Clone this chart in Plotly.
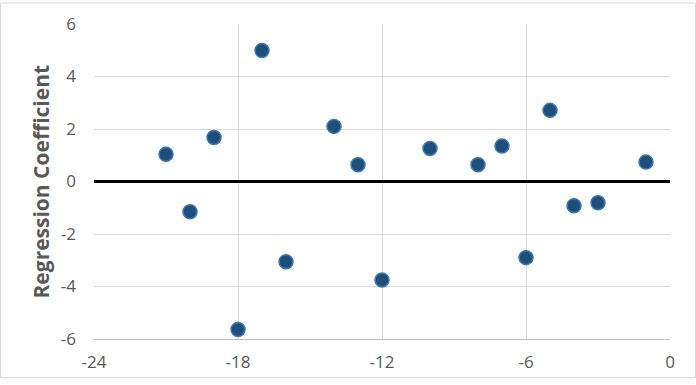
import plotly.graph_objects as go

x_vals = [-21, -20, -19, -18, -17, -16, -14, -13, -12, -10, -8, -7, -6, -5, -4, -3, -1]
y_vals = [1.04, -1.15, 1.68, -5.64, 4.99, -3.06, 2.10, 0.64, -3.75, 1.26, 0.64, 1.35, -2.90, 2.71, -0.92, -0.81, 0.74]
x_ticks = [-24, -18, -12, -6, 0]
y_ticks = [-6, -4, -2, 0, 2, 4, 6]

W, H = 696, 385
ml, mr, mt, mb = 94, 26, 22, 40

fig = go.Figure()
fig.add_trace(go.Scatter(
    x=x_vals, y=y_vals, mode="markers",
    marker=dict(size=14, color="#1f4e79", line=dict(color="#3a78b5", width=1.5)),
    showlegend=False, cliponaxis=False,
))

font_fam = "Open Sans, Liberation Sans, sans-serif"
fig.update_layout(
    width=W, height=H,
    margin=dict(l=ml, r=mr, t=mt, b=mb),
    paper_bgcolor="white", plot_bgcolor="white",
    font=dict(family=font_fam, color="#595959", size=17),
    xaxis=dict(
        range=[-24, 0], tickvals=x_ticks, ticktext=[str(v) for v in x_ticks],
        showgrid=True, gridcolor="#d9d9d9", gridwidth=1,
        zeroline=False, showline=True, linecolor="#bfbfbf", linewidth=1,
        ticks="", ticklabelstandoff=8, tickfont=dict(size=17, color="#595959"),
        fixedrange=True,
    ),
    yaxis=dict(
        range=[-6, 6], tickvals=y_ticks, ticktext=[str(v) for v in y_ticks],
        showgrid=True, gridcolor="#d9d9d9", gridwidth=1,
        zeroline=True, zerolinecolor="black", zerolinewidth=3,
        showline=False, ticks="", ticklabelstandoff=17,
        tickfont=dict(size=17, color="#595959"), fixedrange=True,
    ),
    annotations=[dict(
        text="<b>Regression Coefficient</b>", xref="paper", yref="paper",
        x=-(ml - 40) / (W - ml - mr), y=0.5, xanchor="center", yanchor="middle",
        textangle=-90, showarrow=False, font=dict(size=21, color="#595959", family=font_fam),
    )],
    shapes=[dict(
        type="rect", xref="paper", yref="paper",
        x0=-(ml - 0.5) / (W - ml - mr), x1=1 + (mr - 0.5) / (W - ml - mr),
        y0=-(mb - 0.5) / (H - mt - mb), y1=1 + (mt - 0.5) / (H - mt - mb),
        line=dict(color="#d9d9d9", width=1), layer="below",
    )],
)

fig.write_html("out.html")
